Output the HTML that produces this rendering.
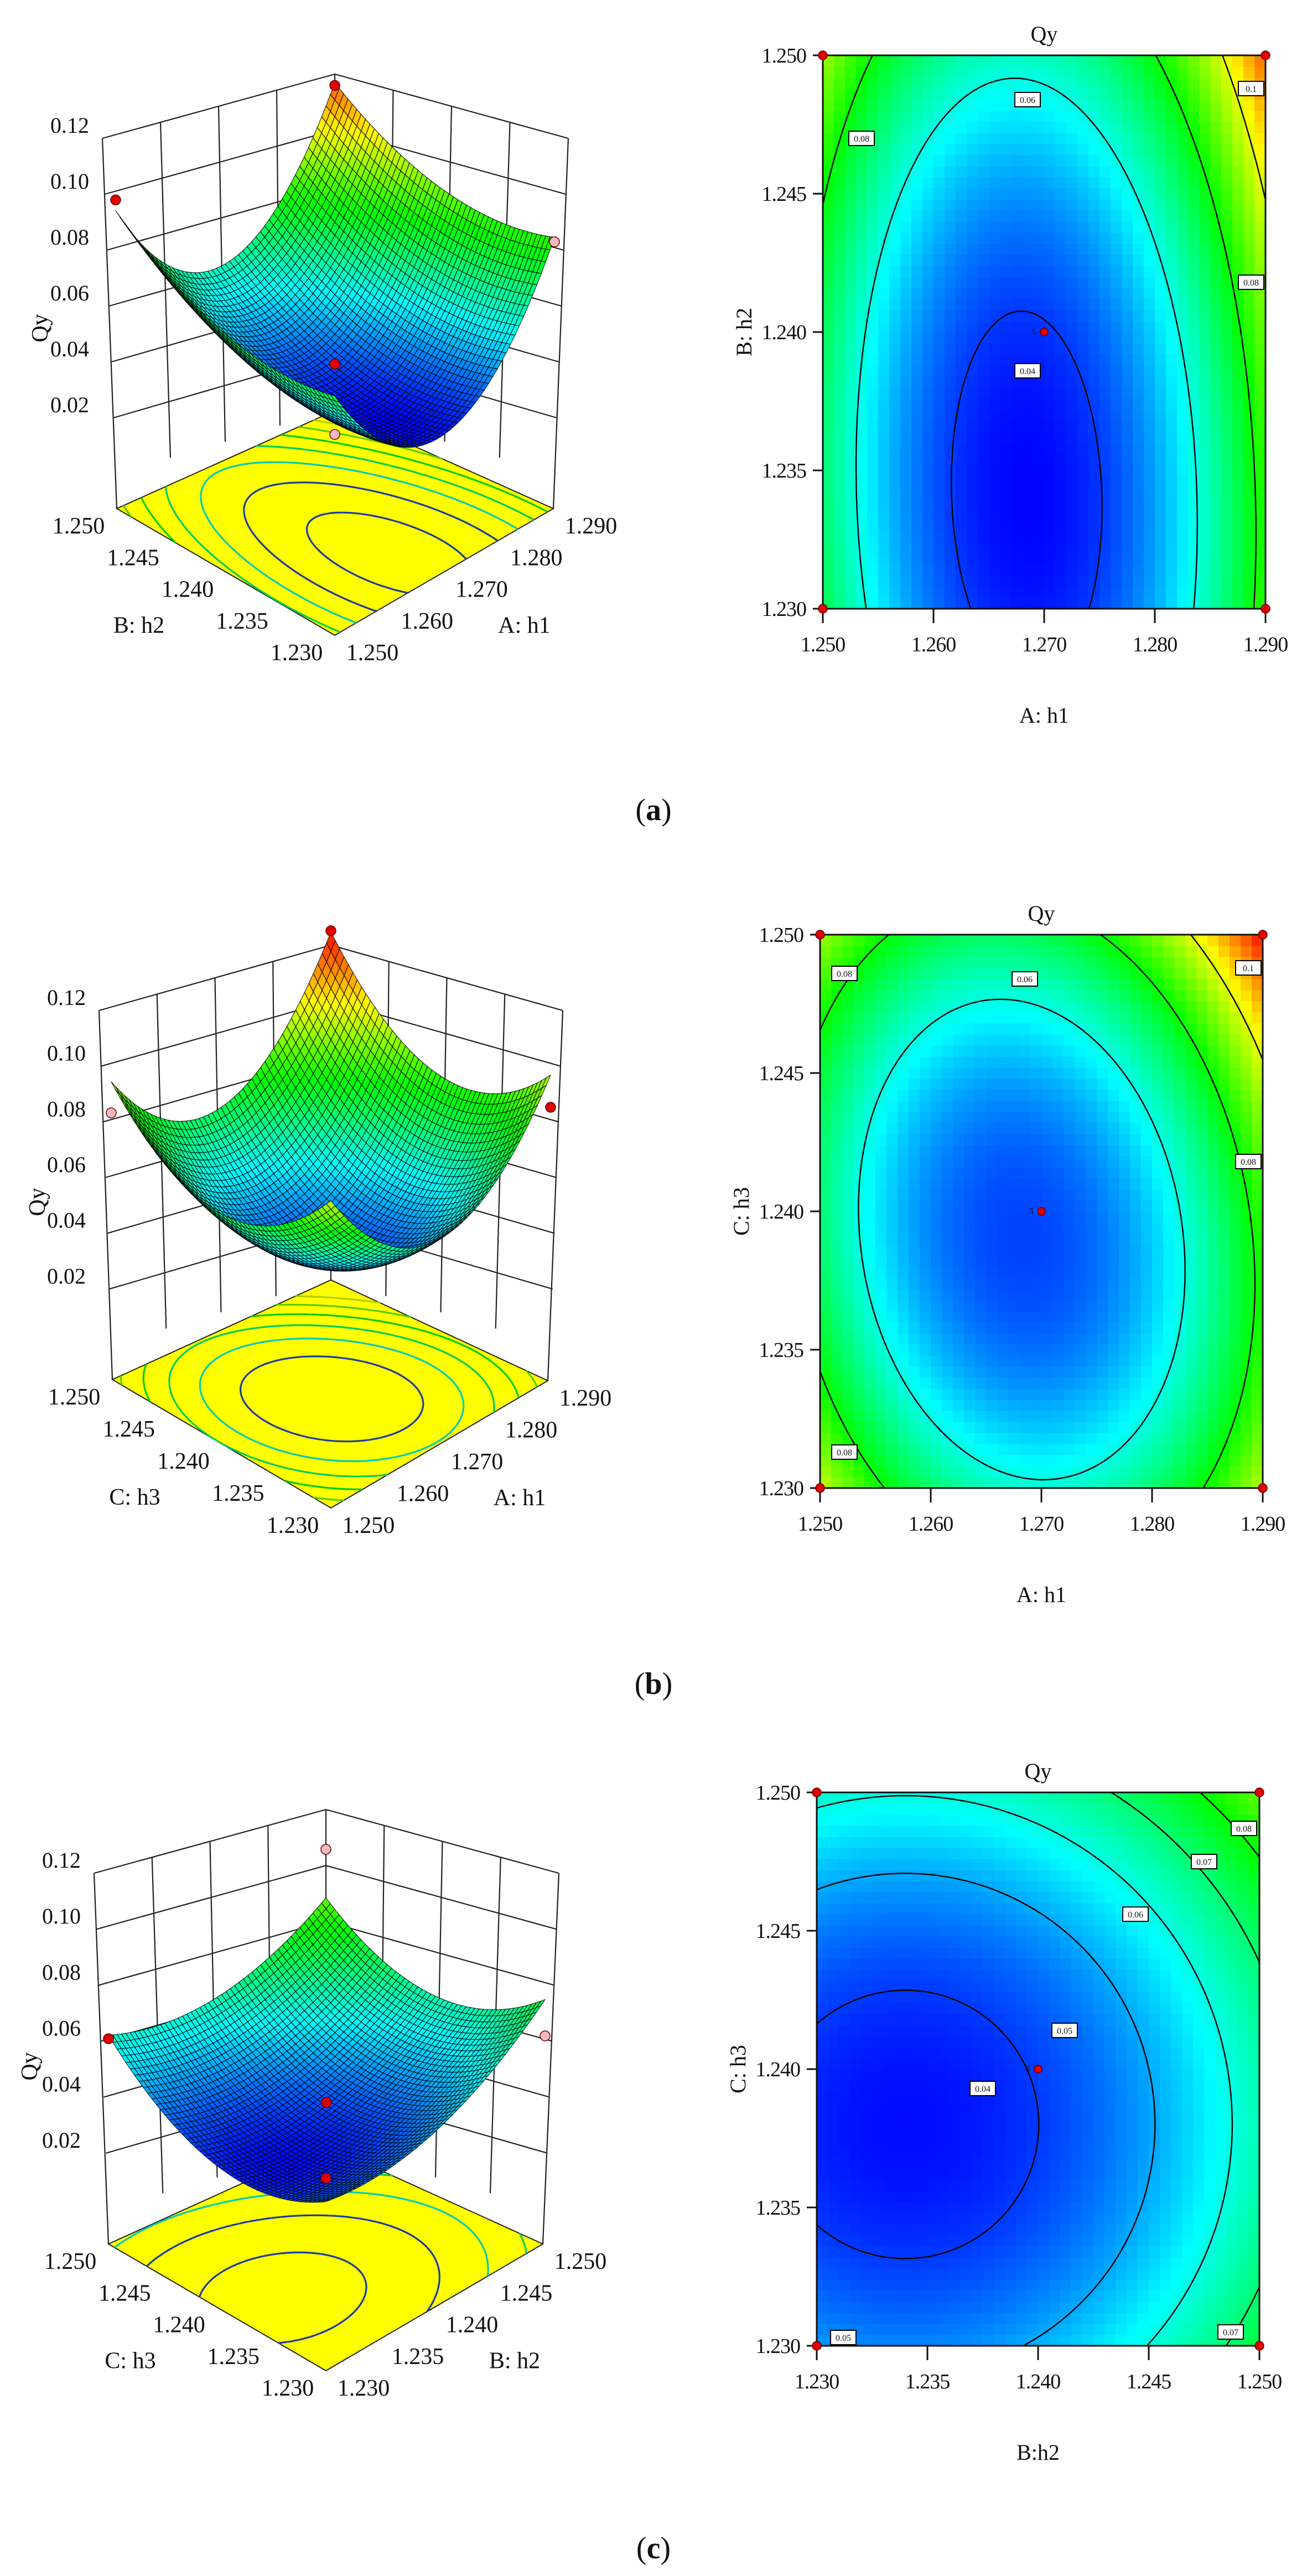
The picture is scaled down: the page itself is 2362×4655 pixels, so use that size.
<!DOCTYPE html>
<html><head><meta charset="utf-8"><title>Qy response surfaces</title>
<style>html,body{margin:0;padding:0;background:#fff}svg{display:block}text{font-family:"Liberation Serif",serif;fill:#111}</style>
</head><body>
<svg id="fig" xmlns="http://www.w3.org/2000/svg" width="2362" height="4655" viewBox="0 0 2362 4655">
<rect x="0" y="0" width="2362" height="4655" fill="#fff"/>
</svg>
<script>
// ---- data ----
const panelIds = ['a', 'b', 'c'];
const modelA = [0.035, -0.1, -0.6, 0.042, 0.011, 0.003, 0];
const modelB = [0.041, -0.1, 0, 0.036, 0.026, 0.008, 0.006];
const modelC = [0.036, -0.6, -0.2, 0.011, 0.017, 0, 0];
const ticksH1 = ['1.250', '1.260', '1.270', '1.280', '1.290'];
const ticksH2 = ['1.230', '1.235', '1.240', '1.245', '1.250'];
const ticksH3 = ['1.230', '1.235', '1.240', '1.245', '1.250'];
const zTickLabels = ['0.02', '0.04', '0.06', '0.08', '0.10', '0.12'];
const zTickValues = [0.02, 0.04, 0.06, 0.08, 0.10, 0.12];
const contourLevelsAB = [0.04, 0.06, 0.08, 0.10];
const contourLevelsC = [0.04, 0.05, 0.06, 0.07, 0.08];
const baseLevels = [0.04, 0.05, 0.06, 0.07, 0.08, 0.09, 0.10];
// design points in 3D: [u, v, Qy, kind]
const design3dA = [[0, 1, 0.098, 0], [1, 1, 0.116, 0], [1, 0, 0.083, 1], [0.5, 0.5, 0.045, 0], [0, 0, 0.06, 1]];
const design3dB = [[0, 1, 0.083, 1], [1, 0, 0.085, 0], [1, 1, 0.125, 0]];
const design3dC = [[0, 1, 0.061, 0], [1, 0, 0.062, 1], [1, 1, 0.106, 1], [0.5, 0.5, 0.044, 0], [0, 0, 0.057, 0]];
// contour labels: [xValue, yValue, text]
const labelsA = [[1.2535, 1.2470, '0.08'], [1.2685, 1.2484, '0.06'], [1.2887, 1.2488, '0.1'], [1.2887, 1.2418, '0.08'], [1.2685, 1.2386, '0.04']];
const labelsB = [[1.2522, 1.2486, '0.08'], [1.2685, 1.2484, '0.06'], [1.2887, 1.2488, '0.1'], [1.2887, 1.2418, '0.08'], [1.2522, 1.2313, '0.08']];
const labelsC = [[1.2493, 1.2487, '0.08'], [1.2475, 1.2475, '0.07'], [1.2444, 1.2456, '0.06'], [1.2412, 1.2414, '0.05'], [1.2375, 1.2393, '0.04'], [1.2312, 1.2303, '0.05'], [1.2487, 1.2305, '0.07']];
const cMin = 0.035, cMax = 0.125;

// ---- helpers ----
const NS = 'http://www.w3.org/2000/svg';
const svg = document.getElementById('fig');
function mk(tag, attrs, parent) {
  const e = document.createElementNS(NS, tag);
  for (const k in attrs) e.setAttribute(k, attrs[k]);
  (parent || svg).appendChild(e);
  return e;
}
function zval(m, x, y) { return m[0] + m[3] * (x - m[1]) ** 2 + m[4] * (y - m[2]) ** 2 + m[5] * x * y + m[6] * y; }
function cmap(z, dark) {
  let t = Math.max(0, Math.min(1, (z - cMin) / (cMax - cMin)));
  const s = [[0, 0, 0, 255], [0.25, 0, 255, 255], [0.5, 0, 255, 0], [0.75, 255, 255, 0], [1, 255, 0, 0]];
  let i = 0; while (i < 3 && t > s[i + 1][0]) i++;
  const f = (t - s[i][0]) / (s[i + 1][0] - s[i][0]);
  const d = dark || 1;
  const c = [1, 2, 3].map(k => Math.round((s[i][k] + f * (s[i + 1][k] - s[i][k])) * d));
  return 'rgb(' + c.join(',') + ')';
}
function bil(P, u, v) {
  return [(1 - u) * (1 - v) * P.F[0] + u * (1 - v) * P.R[0] + u * v * P.B[0] + (1 - u) * v * P.L[0],
          (1 - u) * (1 - v) * P.F[1] + u * (1 - v) * P.R[1] + u * v * P.B[1] + (1 - u) * v * P.L[1]];
}
function lerp(a, b, t) { return [a[0] + (b[0] - a[0]) * t, a[1] + (b[1] - a[1]) * t]; }
function march(f, nx, ny, level) {
  const g = [];
  for (let j = 0; j <= ny; j++) { g.push([]); for (let i = 0; i <= nx; i++) g[j].push(f(i / nx, j / ny) - level); }
  const segs = [];
  for (let j = 0; j < ny; j++) for (let i = 0; i < nx; i++) {
    const c = [[i, j], [i + 1, j], [i + 1, j + 1], [i, j + 1]];
    const pts = [];
    for (let k = 0; k < 4; k++) {
      const p = c[k], q = c[(k + 1) % 4];
      const a = g[p[1]][p[0]], b = g[q[1]][q[0]];
      if ((a < 0) !== (b < 0)) {
        const t = a / (a - b);
        pts.push([(p[0] + t * (q[0] - p[0])) / nx, (p[1] + t * (q[1] - p[1])) / ny]);
      }
    }
    if (pts.length >= 2) segs.push([pts[0], pts[1]]);
    if (pts.length === 4) segs.push([pts[2], pts[3]]);
  }
  return segs;
}

// ---- 3D panels ----
const ZS = 5048;
const panels3d = [
  { model: modelA, pts: design3dA, uT: ticksH1, vT: ticksH2, uName: 'A: h1', vName: 'B: h2',
    base: { F: [605, 1148], R: [1000, 919], B: [605, 742], L: [211, 919] },
    S: { F: [605, 1088], R: [1002, 856], B: [605, 740], L: [209, 856] },
    TL: [185, 250], TB: [605, 134], TR: [1027, 250], qy: [72, 593] },
  { model: modelB, pts: design3dB, uT: ticksH1, vT: ticksH3, uName: 'A: h1', vName: 'C: h3',
    base: { F: [598, 2725], R: [990, 2495], B: [598, 2313], L: [203, 2493] },
    S: { F: [598, 2665], R: [995, 2430], B: [598, 2313], L: [201, 2430] },
    TL: [179, 1826], TB: [598, 1708], TR: [1017, 1826], qy: [67, 2172] },
  { model: modelC, pts: design3dC, uT: ticksH2, vT: ticksH3, uName: 'B: h2', vName: 'C: h3',
    base: { F: [589, 4284], R: [981, 4055], B: [589, 3877], L: [196, 4055] },
    S: { F: [589, 4224], R: [985, 3992], B: [589, 3877], L: [196, 3992] },
    TL: [170, 3385], TB: [589, 3270], TR: [1010, 3385], qy: [53, 3734] }
];

panels3d.forEach((P, pi) => {
  const id = panelIds[pi];
  const grp = mk('g', {});
  
  
  const m = P.model;
  const BL = P.S.L, BB = P.S.B, BR = P.S.R;
  const walls = mk('g', { stroke: '#222', 'stroke-width': 2.2, fill: 'none' }, grp);
  
  
  zTickValues.forEach((zv, k) => {
    const f = zv / 0.12;
    const a = lerp(BL, P.TL, f), b = lerp(BB, P.TB, f), c = lerp(BR, P.TR, f);
    const ln = mk('polyline', { points: a.join(',') + ' ' + b.join(',') + ' ' + c.join(',') }, walls);
    
    
    const t = mk('text', { x: P.TL[0] - 24, y: a[1] - 10, 'font-size': 40, 'text-anchor': 'end' }, grp);
    
    
    t.textContent = zTickLabels[k];
  });
  for (let k = 1; k < 4; k++) {
    const f = k / 4;
    const t1 = lerp(P.TL, P.TB, f), b1 = lerp(BL, BB, f);
    const l1 = mk('line', { x1: t1[0], y1: t1[1], x2: b1[0], y2: b1[1] }, walls);
    
    
    const t2 = lerp(P.TB, P.TR, f), b2 = lerp(BB, BR, f);
    const l2 = mk('line', { x1: t2[0], y1: t2[1], x2: b2[0], y2: b2[1] }, walls);
    
    
  }
  const e1 = mk('line', { x1: P.TL[0], y1: P.TL[1], x2: P.base.L[0], y2: P.base.L[1] }, walls);
  
  
  const e2 = mk('line', { x1: P.TR[0], y1: P.TR[1], x2: P.base.R[0], y2: P.base.R[1] }, walls);
  
  
  const e3 = mk('line', { x1: P.TB[0], y1: P.TB[1], x2: BB[0], y2: BB[1] }, walls);
  
  
  const bp = [P.base.F, P.base.R, P.base.B, P.base.L].map(p => p.join(',')).join(' ');
  const base = mk('polygon', { points: bp, fill: '#ffff00', stroke: '#222', 'stroke-width': 2 }, grp);
  
  
  const fz = (u, v) => zval(m, 2 * u - 1, 2 * v - 1);
  baseLevels.forEach(lv => {
    const segs = march(fz, 60, 60, lv);
    let d = '';
    segs.forEach(s => { const a = bil(P.base, s[0][0], s[0][1]), b = bil(P.base, s[1][0], s[1][1]); d += 'M' + a[0].toFixed(1) + ' ' + a[1].toFixed(1) + 'L' + b[0].toFixed(1) + ' ' + b[1].toFixed(1); });
    const p = mk('path', { d: d, stroke: lv <= 0.05 ? '#1a3c9a' : cmap(lv, 0.8), 'stroke-width': 3.2, fill: 'none' }, grp);
    
    
  });
  P.vT.forEach((lab, k) => {
    const q = lerp(P.base.F, P.base.L, k / 4);
    const t = mk('text', { x: q[0] - 69, y: q[1] + 45, 'font-size': 42, 'text-anchor': 'middle' }, grp);
    
    
    t.textContent = lab;
  });
  P.uT.forEach((lab, k) => {
    const q = lerp(P.base.F, P.base.R, k / 4);
    const t = mk('text', { x: q[0] + 68, y: q[1] + 45, 'font-size': 42, 'text-anchor': 'middle' }, grp);
    
    
    t.textContent = lab;
  });
  const lm = lerp(P.base.F, P.base.L, 0.5), rm = lerp(P.base.F, P.base.R, 0.5);
  const vt = mk('text', { x: lm[0] - 157, y: lm[1] + 110, 'font-size': 42, 'text-anchor': 'middle' }, grp);
  
  
  vt.textContent = P.vName;
  const ut = mk('text', { x: rm[0] + 145, y: rm[1] + 110, 'font-size': 42, 'text-anchor': 'middle' }, grp);
  
  
  ut.textContent = P.uName;
  const qy = mk('text', { x: P.qy[0], y: P.qy[1], 'font-size': 42, 'text-anchor': 'middle', transform: 'rotate(-90 ' + P.qy[0] + ' ' + P.qy[1] + ')', dy: 14 }, grp);
  
  
  qy.textContent = 'Qy';
  const n = 50;
  const proj = (u, v) => { const p = bil(P.S, u, v); return [p[0], p[1] - fz(u, v) * ZS]; };
  const cells = [];
  for (let j = 0; j < n; j++) for (let i = 0; i < n; i++) cells.push([i, j]);
  cells.sort((a, b) => (b[0] + b[1]) - (a[0] + a[1]));
  const sg = mk('g', { 'stroke': '#000', 'stroke-width': 1.3, 'stroke-opacity': 0.75, 'stroke-linejoin': 'round' }, grp);
  
  
  cells.forEach(c => {
    const u0 = c[0] / n, u1 = (c[0] + 1) / n, v0 = c[1] / n, v1 = (c[1] + 1) / n;
    const pts = [proj(u0, v0), proj(u1, v0), proj(u1, v1), proj(u0, v1)];
    const z = fz((u0 + u1) / 2, (v0 + v1) / 2);
    const q = mk('polygon', { points: pts.map(p => p[0].toFixed(1) + ',' + p[1].toFixed(1)).join(' '), fill: cmap(z) }, sg);
    
    
  });
  P.pts.forEach(d => {
    const b = bil(P.S, d[0], d[1]);
    const c = mk('circle', { cx: b[0], cy: b[1] - d[2] * ZS, r: 9, fill: d[3] ? '#f4b8c0' : '#e00000', stroke: '#600', 'stroke-width': 1.5 }, grp);
    
    
  });
});

// ---- contour panels ----
const panelsC = [
  { model: modelA, X0: 1487, Y0: 100, xr: [1.25, 1.29], yr: [1.23, 1.25], xT: ticksH1, yT: ticksH2, xName: 'A: h1', yName: 'B: h2', levels: contourLevelsAB, labels: labelsA },
  { model: modelB, X0: 1482, Y0: 1689, xr: [1.25, 1.29], yr: [1.23, 1.25], xT: ticksH1, yT: ticksH3, xName: 'A: h1', yName: 'C: h3', levels: contourLevelsAB, labels: labelsB },
  { model: modelC, X0: 1476, Y0: 3239, xr: [1.23, 1.25], yr: [1.23, 1.25], xT: ticksH2, yT: ticksH3, xName: 'B:h2', yName: 'C: h3', levels: contourLevelsC, labels: labelsC }
];
const W = 800, H = 1000;
panelsC.forEach((C, pi) => {
  const id = panelIds[pi];
  const grp = mk('g', {});
  
  
  const m = C.model;
  const sx = xv => C.X0 + (xv - C.xr[0]) / (C.xr[1] - C.xr[0]) * W;
  const sy = yv => C.Y0 + H - (yv - C.yr[0]) / (C.yr[1] - C.yr[0]) * H;
  const fz = (u, v) => zval(m, 2 * u - 1, 2 * v - 1);
  const hg = mk('g', { 'shape-rendering': 'crispEdges' }, grp);
  
  
  const nc = 40, nr = 50;
  for (let j = 0; j < nr; j++) for (let i = 0; i < nc; i++) {
    const r = mk('rect', { x: C.X0 + i * W / nc, y: C.Y0 + H - (j + 1) * H / nr, width: W / nc + 0.6, height: H / nr + 0.6, fill: cmap(fz((i + 0.5) / nc, (j + 0.5) / nr)) }, hg);
    
    
  }
  C.levels.forEach(lv => {
    const segs = march(fz, 100, 125, lv);
    let d = '';
    segs.forEach(s => { d += 'M' + (C.X0 + s[0][0] * W).toFixed(1) + ' ' + (C.Y0 + H - s[0][1] * H).toFixed(1) + 'L' + (C.X0 + s[1][0] * W).toFixed(1) + ' ' + (C.Y0 + H - s[1][1] * H).toFixed(1); });
    const p = mk('path', { d: d, stroke: '#000', 'stroke-width': 2.4, fill: 'none' }, grp);
    
    
  });
  const fr = mk('rect', { x: C.X0, y: C.Y0, width: W, height: H, fill: 'none', stroke: '#111', 'stroke-width': 3 }, grp);
  
  
  C.labels.forEach(L => {
    const x = sx(L[0]), y = sy(L[1]);
    const b = mk('rect', { x: x - 23, y: y - 13, width: 46, height: 26, fill: '#fff', stroke: '#000', 'stroke-width': 2 }, grp);
    
    
    const t = mk('text', { x: x, y: y + 6, 'font-size': 16, 'text-anchor': 'middle' }, grp);
    
    
    t.textContent = L[2];
  });
  C.xT.forEach((lab, k) => {
    const x = C.X0 + k * W / 4;
    const tk = mk('line', { x1: x, y1: C.Y0 + H, x2: x, y2: C.Y0 + H + 26, stroke: '#111', 'stroke-width': 3 }, grp);
    
    
    const t = mk('text', { x: x, y: C.Y0 + H + 77, 'font-size': 38, 'text-anchor': 'middle', 'letter-spacing': -1 }, grp);
    
    
    t.textContent = lab;
  });
  C.yT.forEach((lab, k) => {
    const y = C.Y0 + H - k * H / 4;
    const tk = mk('line', { x1: C.X0 - 18, y1: y, x2: C.X0, y2: y, stroke: '#111', 'stroke-width': 3 }, grp);
    
    
    const t = mk('text', { x: C.X0 - 30, y: y + 13, 'font-size': 38, 'text-anchor': 'end', 'letter-spacing': -1 }, grp);
    
    
    t.textContent = lab;
  });
  [[0, 0], [1, 0], [0, 1], [1, 1]].forEach(c => {
    const d = mk('circle', { cx: C.X0 + c[0] * W, cy: C.Y0 + H - c[1] * H, r: 8, fill: '#e00000', stroke: '#600', 'stroke-width': 1.5 }, grp);
    
    
  });
  const cd = mk('circle', { cx: C.X0 + W / 2, cy: C.Y0 + H / 2, r: 7, fill: '#e00000', stroke: '#600', 'stroke-width': 1.5 }, grp);
  
  
  const c5 = mk('text', { x: C.X0 + W / 2 - 14, y: C.Y0 + H / 2 + 5, 'font-size': 16, 'text-anchor': 'end' }, grp);
  
  
  c5.textContent = '5';
  const tt = mk('text', { x: C.X0 + W / 2, y: C.Y0 - 25, 'font-size': 40, 'text-anchor': 'middle' }, grp);
  
  
  tt.textContent = 'Qy';
  const xt = mk('text', { x: C.X0 + W / 2, y: C.Y0 + H + 206, 'font-size': 40, 'text-anchor': 'middle' }, grp);
  
  
  xt.textContent = C.xName;
  const yx = C.X0 - 143, yy = C.Y0 + H / 2;
  const yt = mk('text', { x: yx, y: yy + 14, 'font-size': 40, 'text-anchor': 'middle', transform: 'rotate(-90 ' + yx + ' ' + yy + ')' }, grp);
  
  
  yt.textContent = C.yName;
});

// ---- panel captions ----
const captionY = [1482, 3061, 4623];
panelIds.forEach((id, k) => {
  const t = mk('text', { x: 1181, y: captionY[k], 'font-size': 56, 'text-anchor': 'middle' });
  
  
  const a = mk('tspan', {}, t); a.textContent = '(';
  const b = mk('tspan', { 'font-weight': 'bold' }, t); b.textContent = id;
  const c = mk('tspan', {}, t); c.textContent = ')';
});
</script>
</body></html>
